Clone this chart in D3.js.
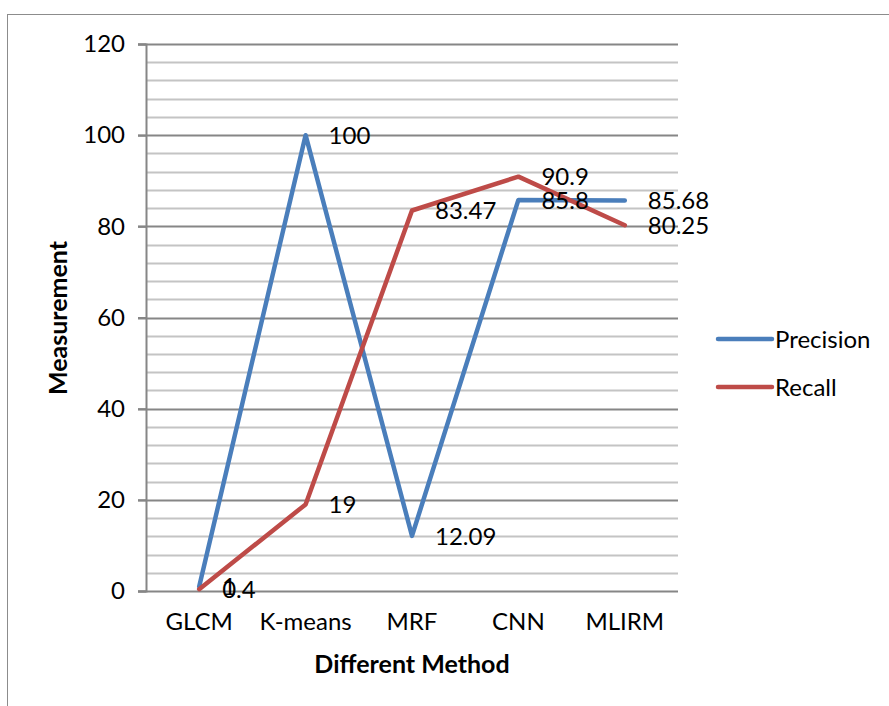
<!DOCTYPE html>
<html>
<head>
<meta charset="utf-8">
<script src="https://cdn.jsdelivr.net/npm/d3@7"></script>
<style>
  body { margin: 0; background: #fff; }
  text { font-family: Lato, "Open Sans", sans-serif; fill: #000; }
</style>
</head>
<body>
<div id="chart"></div>
<script>
// chart values
var methods = ["GLCM", "K-means", "MRF", "CNN", "MLIRM"];
var precision = [1, 100, 12.09, 85.8, 85.68];
var recall = [0.4, 19, 83.47, 90.9, 80.25];
var seriesNames = ["Precision", "Recall"];
var colors = ["#4a7ebb", "#be4b48"];
var yTicks = [0, 20, 40, 60, 80, 100, 120];

var W = 889, H = 706;
var margin = {top: 44, left: 146, right: 211, bottom: 115};
var width = W - margin.left - margin.right,
    height = H - margin.top - margin.bottom;
var fs = "24px";

var svg = d3.select("#chart").append("svg")
    .attr("width", W)
    .attr("height", H);

// outer chart border
svg.append("rect")
    .attr("x", 7.5).attr("y", 14.5)
    .attr("width", W).attr("height", H)
    .attr("fill", "none")
    .attr("stroke", "#8c8c8c")
    .attr("stroke-width", 1);

var g = svg.append("g")
    .attr("transform", "translate(" + margin.left + "," + margin.top + ")");

var x = d3.scaleBand()
    .domain(methods)
    .range([0, width]);

var y = d3.scaleLinear()
    .domain([0, 120])
    .range([height, 0]);

// minor gridlines every 4
g.append("g")
    .selectAll("line")
    .data(d3.range(0, 121, 4).filter(function(d) { return d % 20 != 0; }))
    .enter().append("line")
    .attr("x1", 0).attr("x2", width)
    .attr("y1", function(d) { return Math.round(y(d)) + 0.5; })
    .attr("y2", function(d) { return Math.round(y(d)) + 0.5; })
    .attr("stroke", "#c4c4c4")
    .attr("stroke-width", 2);

// major gridlines
g.append("g")
    .selectAll("line")
    .data(yTicks)
    .enter().append("line")
    .attr("x1", -8).attr("x2", width)
    .attr("y1", function(d) { return Math.round(y(d)) + 0.5; })
    .attr("y2", function(d) { return Math.round(y(d)) + 0.5; })
    .attr("stroke", "#868686")
    .attr("stroke-width", 2);

// y axis
var yAxis = g.append("g")
    .call(d3.axisLeft(y).tickValues(yTicks).tickSize(8).tickPadding(13));
yAxis.select(".domain").attr("stroke", "#868686").attr("stroke-width", 2);
yAxis.selectAll(".tick line").attr("stroke", "#868686").attr("stroke-width", 2);
yAxis.selectAll("text").style("font-size", fs).attr("fill", "#000");

// x axis
var xAxis = g.append("g")
    .attr("transform", "translate(0," + height + ")")
    .call(d3.axisBottom(x).tickSize(0).tickPadding(22));
xAxis.select(".domain").remove();
xAxis.selectAll("text").style("font-size", fs).attr("fill", "#000");

// axis titles
svg.append("text")
    .attr("transform", "translate(67,318) rotate(-90)")
    .attr("text-anchor", "middle")
    .style("font-size", "25px")
    .style("font-weight", "bold")
    .text("Measurement");

svg.append("text")
    .attr("x", margin.left + width / 2)
    .attr("y", 673)
    .attr("text-anchor", "middle")
    .style("font-size", "25px")
    .style("font-weight", "bold")
    .text("Different Method");

// lines
var series = [precision, recall];
var line = d3.line()
    .x(function(d, i) { return x(methods[i]) + x.bandwidth() / 2; })
    .y(function(d) { return y(d); });

series.forEach(function(vals, s) {
  g.append("path")
      .datum(vals)
      .attr("d", line)
      .attr("fill", "none")
      .attr("stroke", colors[s])
      .attr("stroke-width", 4.5)
      .attr("stroke-linejoin", "round")
      .attr("stroke-linecap", "round");
});

// data labels
series.forEach(function(vals, s) {
  g.append("g")
    .selectAll("text")
    .data(vals)
    .enter().append("text")
    .attr("x", function(d, i) { return x(methods[i]) + x.bandwidth() / 2 + 23; })
    .attr("y", function(d) { return y(d); })
    .attr("dy", "0.36em")
    .style("font-size", fs)
    .text(function(d) { return d; });
});

// legend
var legend = svg.append("g")
    .selectAll("g")
    .data(seriesNames)
    .enter().append("g")
    .attr("transform", function(d, i) { return "translate(718," + (339 + i * 48) + ")"; });

legend.append("line")
    .attr("x1", 0).attr("x2", 54)
    .attr("stroke", function(d, i) { return colors[i]; })
    .attr("stroke-width", 4.5)
    .attr("stroke-linecap", "round");

legend.append("text")
    .attr("x", 57)
    .attr("dy", "0.36em")
    .style("font-size", fs)
    .text(function(d) { return d; });
</script>
</body>
</html>
